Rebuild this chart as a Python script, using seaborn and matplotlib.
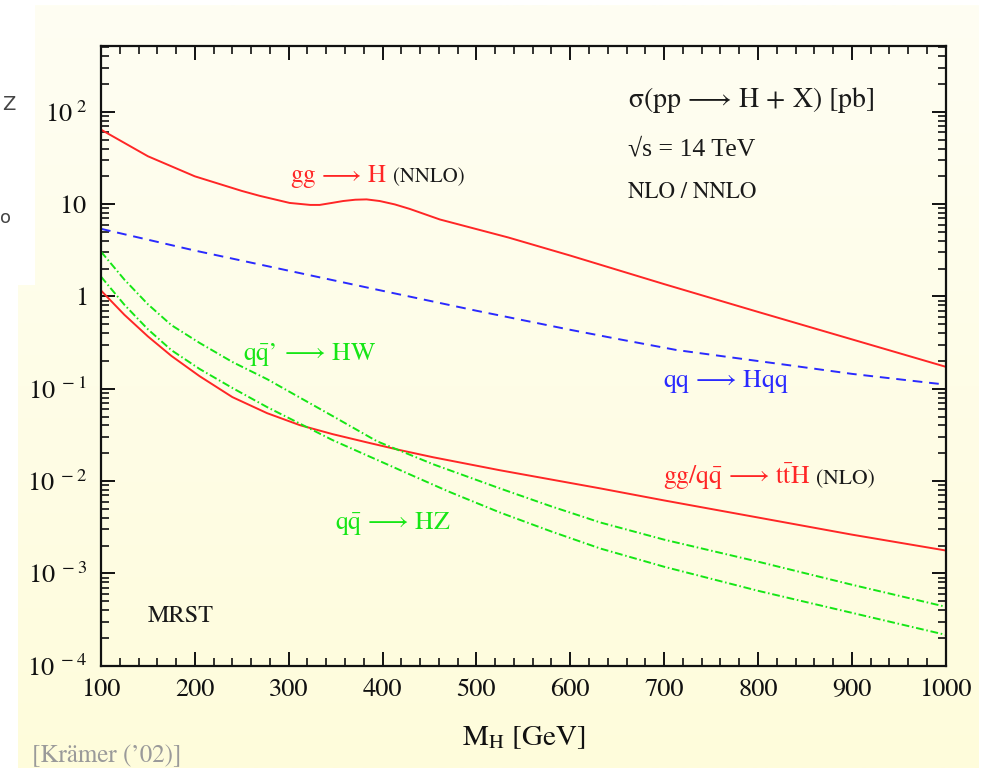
import numpy as np
import pandas as pd
import seaborn as sns
import matplotlib.pyplot as plt
from matplotlib.colors import LinearSegmentedColormap
from matplotlib.patches import Rectangle
from matplotlib.ticker import FixedLocator, FixedFormatter, LogLocator, MultipleLocator, NullFormatter

# Higgs mass [GeV] and cross section [pb]
m_ggh = [100, 150, 200, 250, 269, 301, 323, 333, 346, 358, 371, 383, 397, 413, 429, 461, 534,
         600, 700, 800, 900, 1000]
xs_ggh = [64.1, 33.0, 20.0, 13.9, 12.3, 10.3, 9.8, 9.8, 10.3, 10.8, 11.16, 11.25, 10.8, 9.93, 8.87,
          6.82, 4.35, 2.77, 1.36, 0.68, 0.343, 0.173]

m_vbf = [100, 200, 300, 400, 500, 600, 650, 713, 831, 900, 986, 1000]
xs_vbf = [5.40, 3.14, 1.90, 1.15, 0.70, 0.435, 0.347, 0.263, 0.181, 0.145, 0.115, 0.111]

m_tth = [100, 125, 150, 175, 205, 240, 277, 312, 347, 383, 419, 454, 525, 632, 700, 800, 900, 1000]
xs_tth = [1.16, 0.632, 0.369, 0.227, 0.137, 0.0812, 0.0544, 0.0403, 0.0322, 0.0263, 0.0216, 0.0181,
          0.0131, 0.00833, 0.00617, 0.00403, 0.00263, 0.00177]

m_hw = [100, 125, 150, 175, 205, 240, 277, 347, 394, 454, 525, 580, 632, 700, 800, 900, 1000]
xs_hw = [3.06, 1.52, 0.823, 0.489, 0.314, 0.195, 0.127, 0.0505, 0.0270, 0.0152, 0.00833, 0.00531,
         0.00356, 0.00232, 0.00134, 0.000754, 0.000435]

m_hz = [100, 125, 150, 175, 205, 240, 277, 347, 419, 470, 525, 580, 632, 700, 800, 900, 1000]
xs_hz = [1.64, 0.812, 0.441, 0.262, 0.164, 0.102, 0.0633, 0.0277, 0.0131, 0.00773, 0.00457, 0.00284,
         0.00186, 0.00118, 0.000648, 0.000374, 0.000216]

y_ticks = [1e-4, 1e-3, 1e-2, 1e-1, 1, 10, 100]
y_labels = [r'$10^{\ -4}$', r'$10^{\ -3}$', r'$10^{\ -2}$', r'$10^{\ -1}$',
            r'$1\ \ \ \,$', r'$10\ \ $', r'$10^{\ 2}$']

df = pd.concat([
    pd.DataFrame({'mh': m_ggh, 'xs': xs_ggh, 'proc': 'ggH'}),
    pd.DataFrame({'mh': m_vbf, 'xs': xs_vbf, 'proc': 'VBF'}),
    pd.DataFrame({'mh': m_tth, 'xs': xs_tth, 'proc': 'ttH'}),
    pd.DataFrame({'mh': m_hw, 'xs': xs_hw, 'proc': 'HW'}),
    pd.DataFrame({'mh': m_hz, 'xs': xs_hz, 'proc': 'HZ'}),
])

red, blue, green = '#ff2626', '#2a2aff', '#16e616'
palette = {'ggH': red, 'VBF': blue, 'ttH': red, 'HW': green, 'HZ': green}
dashes = {'ggH': '', 'VBF': (5, 3.5), 'ttH': '', 'HW': (4, 1.4, 0.8, 1.4), 'HZ': (4, 1.4, 0.8, 1.4)}

sns.set_style('ticks')
plt.rcParams['font.family'] = ['STIXGeneral', 'DejaVu Serif']
plt.rcParams['mathtext.fontset'] = 'stix'

fig = plt.figure(figsize=(9.85, 7.68), dpi=100)
fig.patch.set_facecolor('white')

# cream slide background, white notch top left
bg = fig.add_axes([0, 0, 1, 1], zorder=-10)
bg.set_xlim(0, 985)
bg.set_ylim(768, 0)
bg.axis('off')
cream = LinearSegmentedColormap.from_list('cream', ['#fefef3', '#fffcdb'])
bg.imshow(np.linspace(0, 1, 256)[:, None], cmap=cream, extent=(18, 979, 768, 5), aspect='auto')
bg.add_patch(Rectangle((0, 0), 35, 285, color='white', lw=0))

ax = fig.add_axes([0.1025, 0.1332, 0.8576, 0.8073])
ax.set_facecolor('none')

sns.lineplot(data=df, x='mh', y='xs', hue='proc', style='proc', units='proc', estimator=None,
             palette=palette, dashes=dashes, linewidth=1.4, legend=False, ax=ax)

ax.set_yscale('log')
ax.set_xlim(100, 1000)
ax.set_ylim(1e-4, 520)

ax.xaxis.set_major_locator(MultipleLocator(100))
ax.xaxis.set_minor_locator(MultipleLocator(20))
ax.yaxis.set_major_locator(FixedLocator(y_ticks))
ax.yaxis.set_major_formatter(FixedFormatter(y_labels))
ax.yaxis.set_minor_locator(LogLocator(base=10, subs=np.arange(2, 10), numticks=20))
ax.yaxis.set_minor_formatter(NullFormatter())

ax.tick_params(which='both', direction='in', top=True, right=True, colors='#111111', labelsize=19)
ax.tick_params(which='major', length=10, width=1.4)
ax.tick_params(which='minor', length=6, width=1.2)
ax.tick_params(axis='x', pad=9)
ax.tick_params(axis='y', pad=10)
for s in ax.spines.values():
    s.set_linewidth(1.6)
    s.set_color('#111111')

ax.set_xlabel(r'$\mathrm{M_H\ [GeV]}$', fontsize=21, labelpad=16, color='#111111')
ax.set_ylabel('')

# annotations
ink = '#1a1a1a'
arrow = r'\,\longrightarrow\,'
ax.text(662, 134, r'$\mathrm{\sigma(pp' + arrow + r'H\,+\,X)\ [pb]}$', fontsize=20, va='center', color=ink)
ax.text(662, 39, '√s = 14 TeV', fontsize=18.5, va='center', color=ink, family=['Liberation Serif'])
ax.text(662, 13.4, 'NLO / NNLO', fontsize=16.5, va='center', color=ink)

ax.text(301, 17.2, r'$\mathrm{gg' + arrow + r'H}$', fontsize=18, color=red, va='baseline')
ax.text(411, 17.2, '(NNLO)', fontsize=15, va='baseline', color=ink)
ax.text(699, 0.105, r'$\mathrm{qq' + arrow + r'Hqq}$', fontsize=18.5, color=blue, va='baseline')
ax.text(699, 0.0092, r'$\mathrm{gg/q\bar{q}' + arrow + r't\bar{t}H}$', fontsize=18.5, color=red, va='baseline')
ax.text(862, 0.0092, '(NLO)', fontsize=15.5, va='baseline', color=ink)
ax.text(251, 0.205, r'$\mathrm{q\bar{q}}$’$\mathrm{' + arrow + r'HW}$', fontsize=18.5, color=green, va='baseline')
ax.text(349, 0.00304, r'$\mathrm{q\bar{q}' + arrow + r'HZ}$', fontsize=18.5, color=green, va='baseline')
ax.text(150, 0.0003, 'MRST', fontsize=17.5, va='baseline', color=ink)

fig.text(0.0325, 0.0078, "[Krämer (’02)]", fontsize=18, color='#9a9a9a')
fig.text(0.002, 0.864, 'Z', fontsize=14, color='#444444', family='DejaVu Sans', va='center')
fig.text(0.0, 0.716, 'o', fontsize=13, color='#444444', family='DejaVu Sans', va='center')

fig.savefig('out.png', dpi=100)
